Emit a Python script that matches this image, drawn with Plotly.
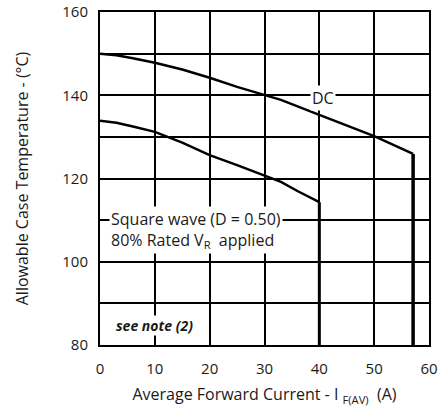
import plotly.graph_objects as go

dc_x = [0, 3, 6, 10, 15, 20, 25, 30, 33, 40, 45, 50, 57.1]
dc_y = [150.0, 149.6, 148.9, 147.8, 146.2, 144.2, 142.0, 140.0, 138.9, 135.3, 132.7, 130.2, 125.9]
dc_drop_x = [57.1, 57.1]
dc_drop_y = [125.9, 80]

sq_x = [0, 3, 6, 10, 15, 20, 25, 30, 33, 36, 40]
sq_y = [133.9, 133.4, 132.5, 131.2, 128.6, 125.6, 123.2, 120.8, 119.2, 117.0, 114.3]
sq_drop_x = [40, 40]
sq_drop_y = [114.3, 80]

x_range = [0, 60]
y_range = [80, 160]
x_ticks = [0, 10, 20, 30, 40, 50, 60]
y_ticks = [80, 90, 100, 110, 120, 130, 140, 150, 160]
y_labels = ["80", "", "100", "", "120", "", "140", "", "160"]

FONT = "Open Sans"
INK = "#1a1a1a"
fig = go.Figure()

for xs, ys, w in [(dc_x, dc_y, 2.5), (dc_drop_x, dc_drop_y, 3.5), (sq_x, sq_y, 2.5), (sq_drop_x, sq_drop_y, 3)]:
    fig.add_trace(go.Scatter(x=xs, y=ys, mode="lines", line=dict(color="black", width=w),
                             showlegend=False, hoverinfo="skip"))

fig.add_annotation(x=40.7, y=139.3, text="DC", showarrow=False, bgcolor="white", borderpad=1,
                   font=dict(family=FONT, size=16, color=INK))
fig.add_annotation(x=1.7, y=107.6, xanchor="left", text="Square wave (D = 0.50)<br>80% Rated V<sub>R</sub>  applied",
                   showarrow=False, bgcolor="white", borderpad=1, align="left",
                   font=dict(family=FONT, size=16, color=INK))
fig.add_annotation(x=10, y=84.8, text="<b><i>see note (2)</i></b>", showarrow=False, bgcolor="white", borderpad=0,
                   font=dict(family=FONT, size=14, color=INK))

fig.update_xaxes(range=x_range, tickmode="array", tickvals=x_ticks, automargin=False,
                 showline=True, linecolor="black", linewidth=2, mirror=True,
                 showgrid=True, gridcolor="black", gridwidth=2, zeroline=False,
                 ticks="outside", ticklen=9, tickcolor="white",
                 tickfont=dict(family=FONT, size=15, color=INK),
                 title=dict(text="Average Forward Current - I <sub>F(AV)</sub>  (A)", standoff=12,
                            font=dict(family=FONT, size=16, color=INK)))
fig.update_yaxes(range=y_range, tickmode="array", tickvals=y_ticks, ticktext=y_labels, automargin=False,
                 showline=True, linecolor="black", linewidth=2, mirror=True,
                 showgrid=True, gridcolor="black", gridwidth=2, zeroline=False,
                 ticks="outside", ticklen=7, tickcolor="white",
                 tickfont=dict(family=FONT, size=15, color=INK),
                 title=dict(text="Allowable Case Temperature - (°C)", standoff=30,
                            font=dict(family=FONT, size=16, color=INK)))
fig.update_layout(width=440, height=408, margin=dict(l=100, r=11, t=12, b=63),
                  plot_bgcolor="white", paper_bgcolor="white")
fig.write_html("out.html")
